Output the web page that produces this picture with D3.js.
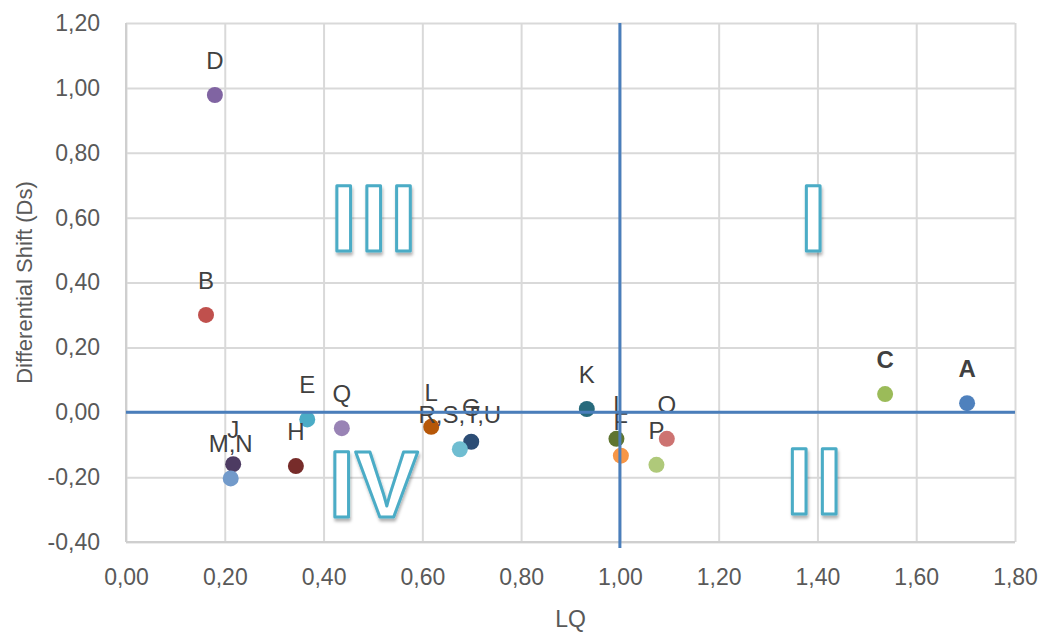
<!DOCTYPE html>
<html>
<head>
<meta charset="utf-8">
<script src="https://cdn.jsdelivr.net/npm/d3@7"></script>
<style>
  body { margin: 0; background: #fff; }
  svg { display: block; font-family: "Liberation Sans", Arial, sans-serif; }
</style>
</head>
<body>
<div id="chart"></div>
<script>
// data
const pointLabels = ["A", "B", "C", "D", "E", "F", "G", "H", "I", "J", "K", "L", "M,N", "O", "P", "Q", "R,S,T,U"];
const lqValues = [1.703, 0.162, 1.537, 0.180, 0.367, 1.002, 0.699, 0.344, 0.993, 0.217, 0.933, 0.618, 0.212, 1.095, 1.074, 0.437, 0.676];
const dsValues = [0.028, 0.300, 0.056, 0.978, -0.022, -0.134, -0.091, -0.166, -0.082, -0.160, 0.010, -0.045, -0.204, -0.082, -0.162, -0.049, -0.114];
const pointColors = ["#4f81bd", "#c0504d", "#9bbb59", "#8064a2", "#4bacc6", "#f79646", "#2c4d75", "#772c2a",
                     "#5f7530", "#4d3b62", "#276a7c", "#b65708", "#729aca", "#cd7371", "#afc97a", "#9983b5", "#6fbdd1"];
const boldLabels = ["A", "C"];

const xTicks = [0, 0.2, 0.4, 0.6, 0.8, 1.0, 1.2, 1.4, 1.6, 1.8];
const yTicks = [-0.4, -0.2, 0, 0.2, 0.4, 0.6, 0.8, 1.0, 1.2];

// quadrant cross lines (LQ = 1, Ds = 0)
const lqSplit = 1.0;
const dsSplit = 0.0;

// quadrant numerals
const quadText = ["III", "I", "II", "IV"];
const quadLQ = [0.505, 1.395, 1.397, 0.501];
const quadDs = [0.602, 0.603, -0.207, -0.216];

const W = 1049, H = 632;
const margin = {top: 23, right: 34, bottom: 90, left: 126};
const iw = W - margin.left - margin.right;
const ih = H - margin.top - margin.bottom;

const svg = d3.select("#chart").append("svg")
    .attr("width", W)
    .attr("height", H);

const defs = svg.append("defs");
const shadow = defs.append("filter").attr("id", "shadow")
    .attr("x", "-20%").attr("y", "-20%").attr("width", "140%").attr("height", "140%");
shadow.append("feDropShadow")
    .attr("dx", 1).attr("dy", 3).attr("stdDeviation", 1.5)
    .attr("flood-color", "#000").attr("flood-opacity", 0.3);

const g = svg.append("g").attr("transform", `translate(${margin.left},${margin.top})`);

const x = d3.scaleLinear().domain([0, 1.8]).range([0, iw]);
const y = d3.scaleLinear().domain([-0.4, 1.2]).range([ih, 0]);

const fmt = d => d.toFixed(2).replace(".", ",");

// gridlines + tick labels
const xAxis = g.append("g")
    .attr("transform", `translate(0,${ih})`)
    .call(d3.axisBottom(x).tickValues(xTicks).tickSize(-ih).tickPadding(27).tickFormat(fmt));
const yAxis = g.append("g")
    .call(d3.axisLeft(y).tickValues(yTicks).tickSize(-iw).tickPadding(26).tickFormat(fmt));

[xAxis, yAxis].forEach(a => {
    a.select(".domain").remove();
    a.selectAll("line").attr("stroke", "#d9d9d9").attr("stroke-width", 2);
    a.selectAll("text")
        .attr("fill", "#595959")
        .style("font-size", "23px")
        .style("font-family", "Liberation Sans, Arial, sans-serif");
});

// axis lines
g.append("line")
    .attr("x1", 0).attr("x2", 0).attr("y1", 0).attr("y2", ih)
    .attr("stroke", "#cfcfcf").attr("stroke-width", 2);
g.append("line")
    .attr("x1", 0).attr("x2", iw).attr("y1", ih).attr("y2", ih)
    .attr("stroke", "#cfcfcf").attr("stroke-width", 2);

// axis titles
svg.append("text")
    .attr("x", margin.left + iw / 2)
    .attr("y", 627)
    .attr("text-anchor", "middle")
    .attr("fill", "#595959")
    .style("font-size", "23px")
    .text("LQ");

svg.append("text")
    .attr("transform", `translate(32,${margin.top + ih / 2}) rotate(-90)`)
    .attr("text-anchor", "middle")
    .attr("fill", "#595959")
    .style("font-size", "22px")
    .text("Differential Shift (Ds)");

// quadrant numerals
g.selectAll(".quad")
    .data(quadText)
    .enter().append("text")
    .attr("class", "quad")
    .attr("x", (d, i) => x(quadLQ[i]))
    .attr("y", (d, i) => y(quadDs[i]))
    .attr("dy", "0.36em")
    .attr("text-anchor", "middle")
    .attr("fill", "#fff")
    .attr("stroke", "#4bacc6")
    .attr("stroke-width", 3)
    .attr("stroke-linejoin", "round")
    .attr("filter", "url(#shadow)")
    .style("font-size", "95px")
    .style("font-weight", "bold")
    .style("letter-spacing", d => d === "IV" ? "0px" : "3.5px")
    .text(d => d);

// points
g.selectAll(".pt")
    .data(pointLabels)
    .enter().append("circle")
    .attr("class", "pt")
    .attr("cx", (d, i) => x(lqValues[i]))
    .attr("cy", (d, i) => y(dsValues[i]))
    .attr("r", 8)
    .attr("fill", (d, i) => pointColors[i]);

// point labels
g.selectAll(".lbl")
    .data(pointLabels)
    .enter().append("text")
    .attr("class", "lbl")
    .attr("x", (d, i) => x(lqValues[i]))
    .attr("y", (d, i) => y(dsValues[i]) - 26)
    .attr("text-anchor", "middle")
    .attr("fill", "#404040")
    .style("font-size", "24px")
    .style("font-weight", d => boldLabels.includes(d) ? "bold" : "normal")
    .text(d => d);

// cross lines
g.append("line")
    .attr("x1", x(0)).attr("x2", x(1.8))
    .attr("y1", y(dsSplit)).attr("y2", y(dsSplit))
    .attr("stroke", "#4a7ebb").attr("stroke-width", 3);
g.append("line")
    .attr("x1", x(lqSplit)).attr("x2", x(lqSplit))
    .attr("y1", y(1.2)).attr("y2", y(-0.4) + 6)
    .attr("stroke", "#4a7ebb").attr("stroke-width", 3);
</script>
</body>
</html>
